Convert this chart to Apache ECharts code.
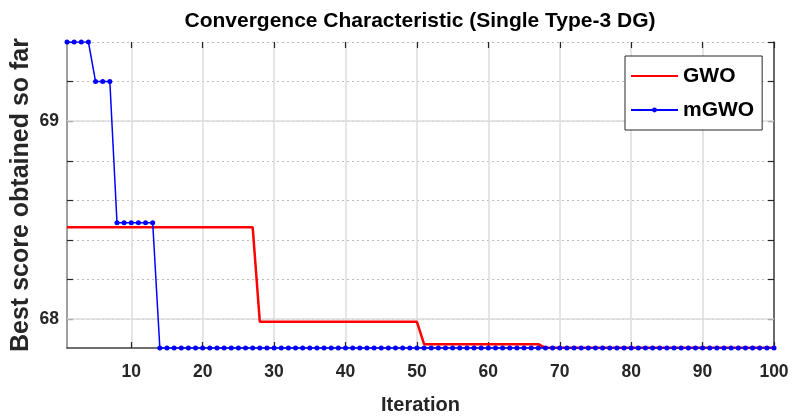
<!DOCTYPE html>
<html>
<head>
<meta charset="utf-8">
<script src="https://cdn.jsdelivr.net/npm/echarts@6/dist/echarts.min.js"></script>
<style>html,body{margin:0;padding:0;background:#fff}#c{width:793px;height:416px}</style>
</head>
<body>
<div id="c"></div>
<script>
const iterations = [
  1,2,3,4,5,6,7,8,9,10,
  11,12,13,14,15,16,17,18,19,20,
  21,22,23,24,25,26,27,28,29,30,
  31,32,33,34,35,36,37,38,39,40,
  41,42,43,44,45,46,47,48,49,50,
  51,52,53,54,55,56,57,58,59,60,
  61,62,63,64,65,66,67,68,69,70,
  71,72,73,74,75,76,77,78,79,80,
  81,82,83,84,85,86,87,88,89,90,
  91,92,93,94,95,96,97,98,99,100
];
const gwo = [
  68.464,68.464,68.464,68.464,68.464,68.464,68.464,68.464,68.464,68.464,
  68.464,68.464,68.464,68.464,68.464,68.464,68.464,68.464,68.464,68.464,
  68.464,68.464,68.464,68.464,68.464,68.464,68.464,67.986,67.986,67.986,
  67.986,67.986,67.986,67.986,67.986,67.986,67.986,67.986,67.986,67.986,
  67.986,67.986,67.986,67.986,67.986,67.986,67.986,67.986,67.986,67.986,
  67.873,67.873,67.873,67.873,67.873,67.873,67.873,67.873,67.873,67.873,
  67.873,67.873,67.873,67.873,67.873,67.873,67.873,67.855,67.855,67.855,
  67.855,67.855,67.855,67.855,67.855,67.855,67.855,67.855,67.855,67.855,
  67.855,67.855,67.855,67.855,67.855,67.855,67.855,67.855,67.855,67.855,
  67.855,67.855,67.855,67.855,67.855,67.855,67.855,67.855,67.855,67.855
];
const mgwo = [
  69.4,69.4,69.4,69.4,69.2,69.2,69.2,68.487,68.487,68.487,
  68.487,68.487,68.487,67.854,67.854,67.854,67.854,67.854,67.854,67.854,
  67.854,67.854,67.854,67.854,67.854,67.854,67.854,67.854,67.854,67.854,
  67.854,67.854,67.854,67.854,67.854,67.854,67.854,67.854,67.854,67.854,
  67.854,67.854,67.854,67.854,67.854,67.854,67.854,67.854,67.854,67.854,
  67.854,67.854,67.854,67.854,67.854,67.854,67.854,67.854,67.854,67.854,
  67.854,67.854,67.854,67.854,67.854,67.854,67.854,67.854,67.854,67.854,
  67.854,67.854,67.854,67.854,67.854,67.854,67.854,67.854,67.854,67.854,
  67.854,67.854,67.854,67.854,67.854,67.854,67.854,67.854,67.854,67.854,
  67.854,67.854,67.854,67.854,67.854,67.854,67.854,67.854,67.854,67.854
];
const yTicks = [68, 68.2, 68.4, 68.6, 68.8, 69, 69.2, 69.4];
const yLabels = [68, 69];
const yMajor = [68, 69];
const yMin = 67.854, yMax = 69.4;

const FONT = "'Liberation Sans',Arial,sans-serif";
const every10 = (i) => (i + 1) % 10 === 0;

const chart = echarts.init(document.getElementById('c'), null, {renderer: 'canvas'});
chart.setOption({
  animation: false,
  backgroundColor: '#fff',
  title: {
    text: 'Convergence Characteristic (Single Type-3 DG)',
    left: 420, top: 11, textAlign: 'center', padding: 0,
    textStyle: {fontFamily: FONT, fontSize: 21, fontWeight: 'bold', color: '#000'}
  },
  legend: {
    orient: 'vertical', left: 625, top: 56,
    padding: [7, 8, 7, 5], itemGap: 8,
    itemWidth: 47, itemHeight: 6,
    backgroundColor: '#fff', borderColor: '#262626', borderWidth: 1, borderRadius: 0,
    textStyle: {fontFamily: FONT, fontSize: 21, fontWeight: 'bold', color: '#000', lineHeight: 26},
    data: [
      {name: 'GWO', itemStyle: {opacity: 0}},
      {name: 'mGWO'}
    ]
  },
  grid: {left: 67, right: 19, top: 42, bottom: 68, containLabel: false, outerBoundsMode: 'none'},
  xAxis: [{
    type: 'category', data: iterations, boundaryGap: false,
    name: 'Iteration', nameLocation: 'middle', nameGap: 47, nameMoveOverlap: false,
    nameTextStyle: {fontFamily: FONT, fontSize: 20, fontWeight: 'bold', color: '#262626'},
    axisLine: {lineStyle: {color: '#404040', width: 1.5}},
    axisTick: {inside: true, length: 6, interval: every10, lineStyle: {color: '#262626', width: 1.2}},
    axisLabel: {interval: every10, margin: 15, fontFamily: FONT, fontSize: 17.5, fontWeight: 'bold', color: '#262626'},
    splitLine: {show: true, interval: every10, lineStyle: {color: '#dcdcdc', width: 1.5}}
  }, {
    type: 'category', data: iterations, boundaryGap: false, position: 'top',
    axisLine: {show: false},
    axisTick: {inside: true, length: 6, interval: every10, lineStyle: {color: '#262626', width: 1.2}},
    axisLabel: {show: false}, splitLine: {show: false}
  }],
  yAxis: [{
    type: 'value', min: yMin, max: yMax,
    name: 'Best score obtained so far', nameLocation: 'middle', nameGap: 33, nameRotate: 90, nameMoveOverlap: false,
    nameTextStyle: {fontFamily: FONT, fontSize: 25, fontWeight: 'bold', color: '#262626'},
    axisLine: {show: true, lineStyle: {color: '#808080', width: 1.5}},
    axisTick: {show: true, inside: true, length: 6, customValues: yTicks, lineStyle: {color: '#262626', width: 1.2}},
    axisLabel: {customValues: yLabels, margin: 8, fontFamily: FONT, fontSize: 17.5, fontWeight: 'bold', color: '#262626', padding: [3, 0, 0, 0]},
    splitLine: {show: true, lineStyle: {color: '#bdbdbd', width: 1.2, type: [2, 3]}}
  }, {
    type: 'value', min: yMin, max: yMax, position: 'right',
    axisLine: {show: true, lineStyle: {color: '#404040', width: 1.5}},
    axisTick: {show: true, inside: true, length: 6, customValues: yTicks, lineStyle: {color: '#262626', width: 1.2}},
    axisLabel: {show: false}, splitLine: {show: false}
  }],
  series: [{
    name: 'GWO', type: 'line', data: gwo, symbol: 'none', z: 3,
    lineStyle: {color: '#ff0000', width: 2.5}, itemStyle: {color: '#ff0000'},
    markLine: {
      silent: true, symbol: 'none', label: {show: false}, z: 1,
      lineStyle: {color: '#dcdcdc', width: 1.5, type: 'solid'},
      data: yMajor.map(v => ({yAxis: v}))
    }
  }, {
    name: 'mGWO', type: 'line', data: mgwo, symbol: 'circle', symbolSize: 5, showAllSymbol: true, z: 4,
    lineStyle: {color: '#0000ff', width: 1.5}, itemStyle: {color: '#0000ff'}
  }]
});
</script>
</body>
</html>
